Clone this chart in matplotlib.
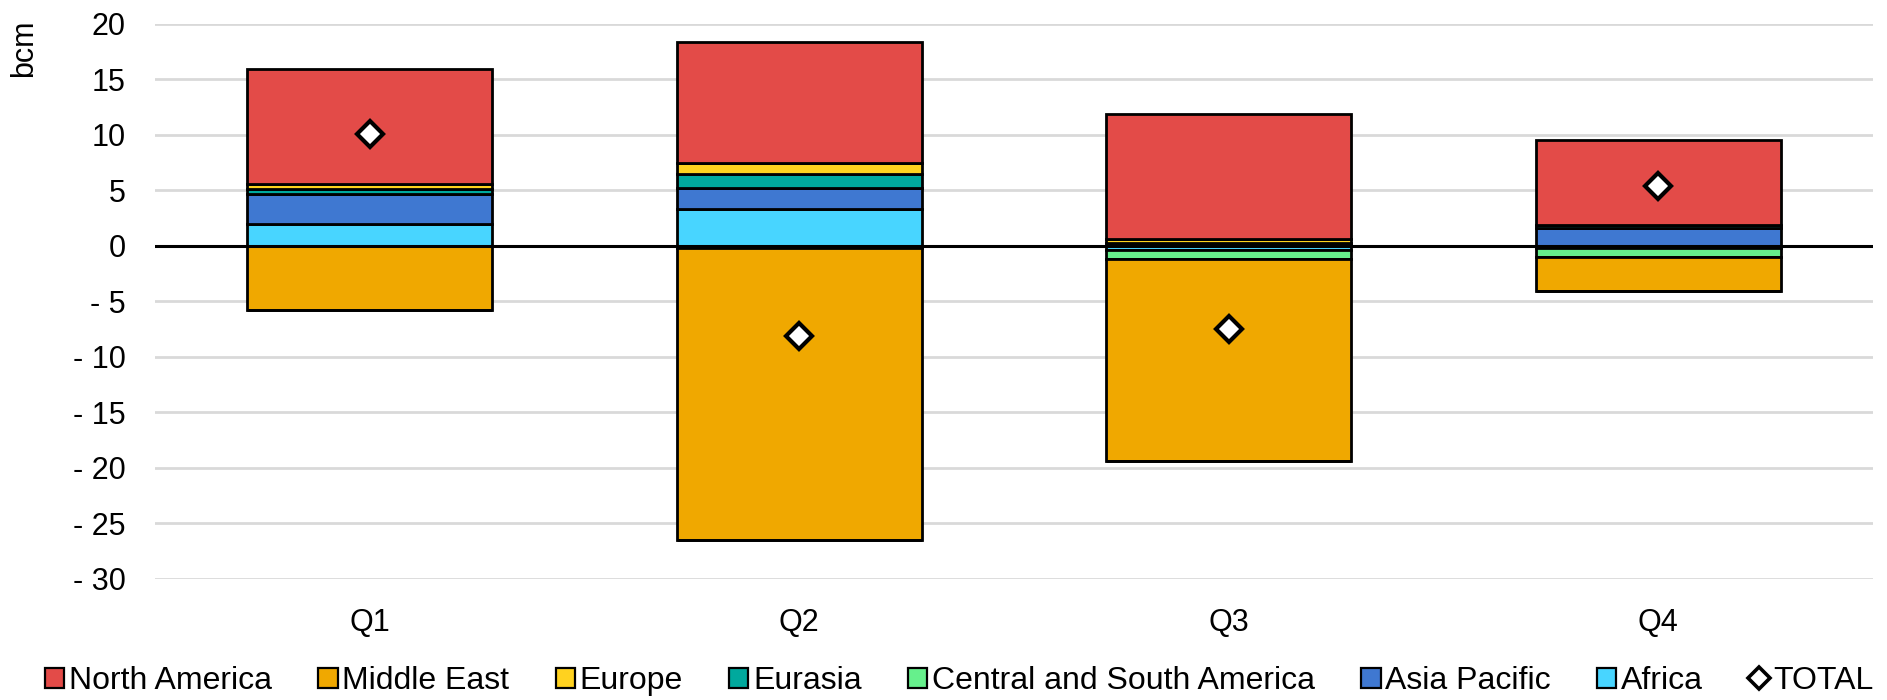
import matplotlib.pyplot as plt
import numpy as np
from matplotlib.patches import Patch
from matplotlib.lines import Line2D

plt.rcParams['font.family'] = ['Liberation Sans', 'DejaVu Sans']

quarters = ['Q1', 'Q2', 'Q3', 'Q4']

# stacked from the zero line outwards, in this order
regions = ['Africa', 'Asia Pacific', 'Central and South America', 'Eurasia',
           'Europe', 'Middle East', 'North America']
africa = [1.95, 3.3, -0.4, -0.2]
asia_pacific = [2.7, 1.9, 0.0, 1.6]
central_south_america = [0.0, -0.2, -0.8, -0.8]
eurasia = [0.45, 1.3, 0.3, 0.3]
europe = [0.5, 1.0, 0.3, 0.0]
middle_east = [-5.8, -26.3, -18.2, -3.1]
north_america = [10.3, 10.9, 11.3, 7.6]

colors = {
    'North America': '#E34B48',
    'Middle East': '#F0A800',
    'Europe': '#FFD21F',
    'Eurasia': '#00A99D',
    'Central and South America': '#66F08C',
    'Asia Pacific': '#3F78D1',
    'Africa': '#48D5FF',
}
values = {
    'Africa': africa,
    'Asia Pacific': asia_pacific,
    'Central and South America': central_south_america,
    'Eurasia': eurasia,
    'Europe': europe,
    'Middle East': middle_east,
    'North America': north_america,
}

fig = plt.figure(figsize=(18.87, 7.0), dpi=100)
ax = fig.add_axes([0.0821, 0.173, 0.9105, 0.793])

x = np.arange(len(quarters))
pos_base = np.zeros(len(quarters))
neg_base = np.zeros(len(quarters))
for name in regions:
    v = np.array(values[name], dtype=float)
    pos = np.where(v > 0, v, 0)
    neg = np.where(v < 0, v, 0)
    ax.bar(x, pos, 0.57, bottom=pos_base, color=colors[name],
           edgecolor='black', linewidth=2, zorder=3)
    ax.bar(x, neg, 0.57, bottom=neg_base, color=colors[name],
           edgecolor='black', linewidth=2, zorder=3)
    pos_base += pos
    neg_base += neg

total = sum(np.array(values[n]) for n in regions)
ax.plot(x, total, linestyle='none', marker='D', markersize=13,
        markerfacecolor='white', markeredgecolor='black',
        markeredgewidth=3, zorder=5)

ax.axhline(0, color='black', linewidth=2.2, zorder=4)
ax.set_ylim(-30, 20)
ax.set_xlim(-0.5, 3.5)
yt = np.arange(-30, 21, 5)
ax.set_yticks(yt)
ax.set_yticklabels([f'- {abs(t)}' if t < 0 else f'{t}' for t in yt])
ax.set_xticks(x)
ax.set_xticklabels(quarters)
ax.grid(axis='y', color='#d9d9d9', linewidth=2, zorder=0)
ax.set_axisbelow(True)
for s in ax.spines.values():
    s.set_visible(False)
ax.tick_params(length=0, labelsize=22, colors='black')
ax.tick_params(axis='y', pad=21)
ax.tick_params(axis='x', pad=21)

fig.text(0.0127, 0.931, 'bcm', rotation=90, fontsize=22, va='center', ha='center')

legend_order = ['North America', 'Middle East', 'Europe', 'Eurasia',
                'Central and South America', 'Asia Pacific', 'Africa']
handles = [Patch(facecolor=colors[n], edgecolor='black', linewidth=1.6)
           for n in legend_order]
handles.append(Line2D([], [], linestyle='none', marker='D', markersize=11,
                      markerfacecolor='white', markeredgecolor='black',
                      markeredgewidth=2.6))
fig.legend(handles, legend_order + ['TOTAL'], loc='center',
           bbox_to_anchor=(0.5085, 0.027), ncol=8, frameon=False,
           fontsize=23, handlelength=0.6, handleheight=0.6,
           handletextpad=0.15, columnspacing=1.45, borderaxespad=0)

fig.savefig('out.png', dpi=100)
